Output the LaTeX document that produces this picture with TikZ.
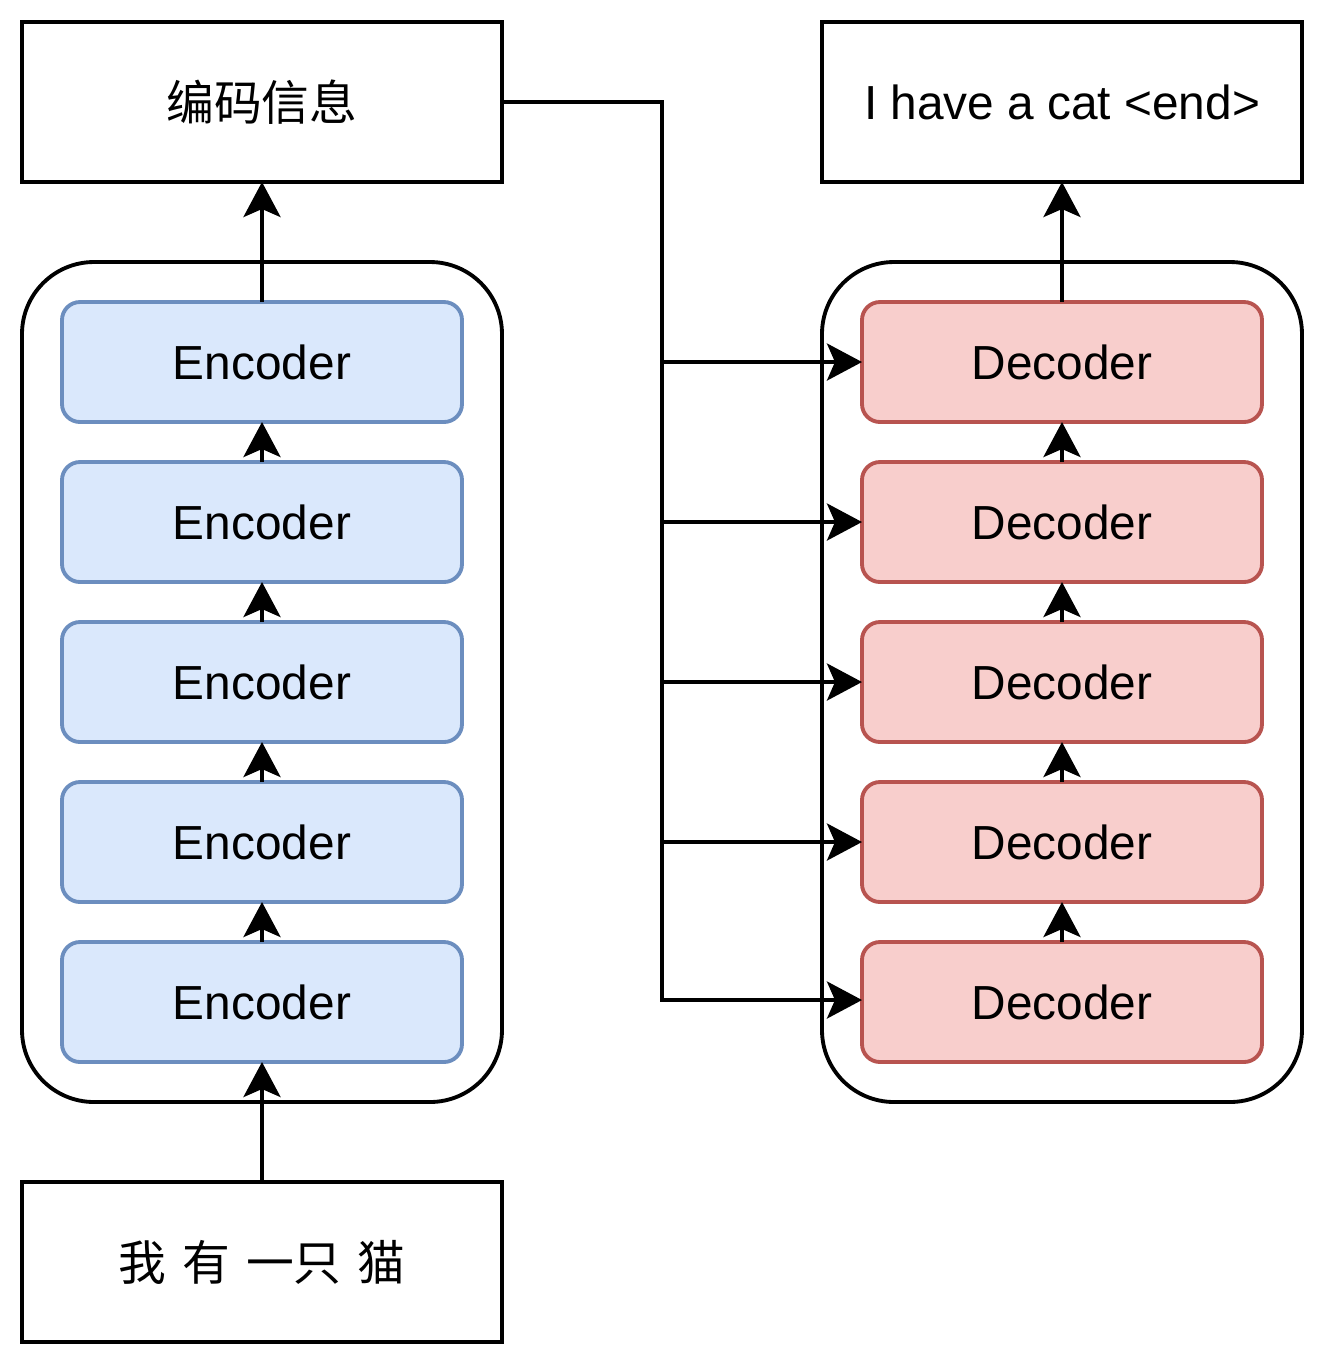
\documentclass[tikz,border=0pt]{standalone}
\usepackage{fontspec}
\setmainfont{Liberation Sans}
\newfontfamily\cjk[WordSpace=1.5]{Noto Sans CJK SC}
\usetikzlibrary{arrows.meta, positioning}

\definecolor{encFill}{HTML}{DAE8FC}
\definecolor{encLine}{HTML}{6C8EBF}
\definecolor{decFill}{HTML}{F8CECC}
\definecolor{decLine}{HTML}{B85450}

\begin{document}
\begin{tikzpicture}[
    ->, >={Stealth[length=3.5mm, width=3.7mm, inset=0.8mm]},
    line width=1.1pt,
    % Plain text boxes: square corners, white fill
    textBox/.style={
        draw, fill=white,
        minimum width=4.8cm, minimum height=1.6cm,
        inner sep=0pt, outer sep=0pt,
        font=\fontsize{13.6}{16}\selectfont
    },
    % Large rounded frames around each stack
    stackFrame/.style={
        draw, rounded corners=7.2mm,
        minimum width=4.8cm, minimum height=8.4cm,
        inner sep=0pt, outer sep=0pt
    },
    % Encoder blocks: blue
    encStyle/.style={
        draw=encLine, fill=encFill, rounded corners=1.8mm,
        minimum width=4cm, minimum height=1.2cm,
        inner sep=0pt, outer sep=0pt,
        font=\fontsize{13.6}{16}\selectfont
    },
    % Decoder blocks: red
    decStyle/.style={
        draw=decLine, fill=decFill, rounded corners=1.8mm,
        minimum width=4cm, minimum height=1.2cm,
        inner sep=0pt, outer sep=0pt,
        font=\fontsize{13.6}{16}\selectfont
    }
]
\useasboundingbox (0,0) rectangle (13.24,-13.64);

%--- Input / output boxes ---
\node[textBox] (info)   at (2.62,-1.02)   {\cjk 编码信息};
\node[textBox] (output) at (10.62,-1.02)  {I have a cat <end>};
\node[textBox] (input)  at (2.62,-12.62)  {\cjk 我 有 一只 猫};

%--- Frames ---
\node[stackFrame] (encFrame) at (2.62,-6.82)  {};
\node[stackFrame] (decFrame) at (10.62,-6.82) {};

%--- Encoder stack (top to bottom) ---
\node[encStyle] (enc1) at (2.62,-3.62)  {Encoder};
\node[encStyle] (enc2) at (2.62,-5.22)  {Encoder};
\node[encStyle] (enc3) at (2.62,-6.82)  {Encoder};
\node[encStyle] (enc4) at (2.62,-8.42)  {Encoder};
\node[encStyle] (enc5) at (2.62,-10.02) {Encoder};

%--- Decoder stack (top to bottom) ---
\node[decStyle] (dec1) at (10.62,-3.62)  {Decoder};
\node[decStyle] (dec2) at (10.62,-5.22)  {Decoder};
\node[decStyle] (dec3) at (10.62,-6.82)  {Decoder};
\node[decStyle] (dec4) at (10.62,-8.42)  {Decoder};
\node[decStyle] (dec5) at (10.62,-10.02) {Decoder};

%-----------------------
%        Edges
%-----------------------
% (1) Input -> encoders -> encoded info
\draw (input) -- (enc5);
\draw (enc5) -- (enc4);
\draw (enc4) -- (enc3);
\draw (enc3) -- (enc2);
\draw (enc2) -- (enc1);
\draw (enc1) -- (info);

% (2) Decoders -> output
\draw (dec5) -- (dec4);
\draw (dec4) -- (dec3);
\draw (dec3) -- (dec2);
\draw (dec2) -- (dec1);
\draw (dec1) -- (output);

% (3) Encoded info fed to every decoder
\coordinate (busEnd) at (6.62,-10.00);
\draw (info.east) -| (busEnd) -- (busEnd -| dec5.west);
\draw (busEnd |- dec1.west) -- (dec1.west);
\draw (busEnd |- dec2.west) -- (dec2.west);
\draw (busEnd |- dec3.west) -- (dec3.west);
\draw (busEnd |- dec4.west) -- (dec4.west);
\end{tikzpicture}
\end{document}
